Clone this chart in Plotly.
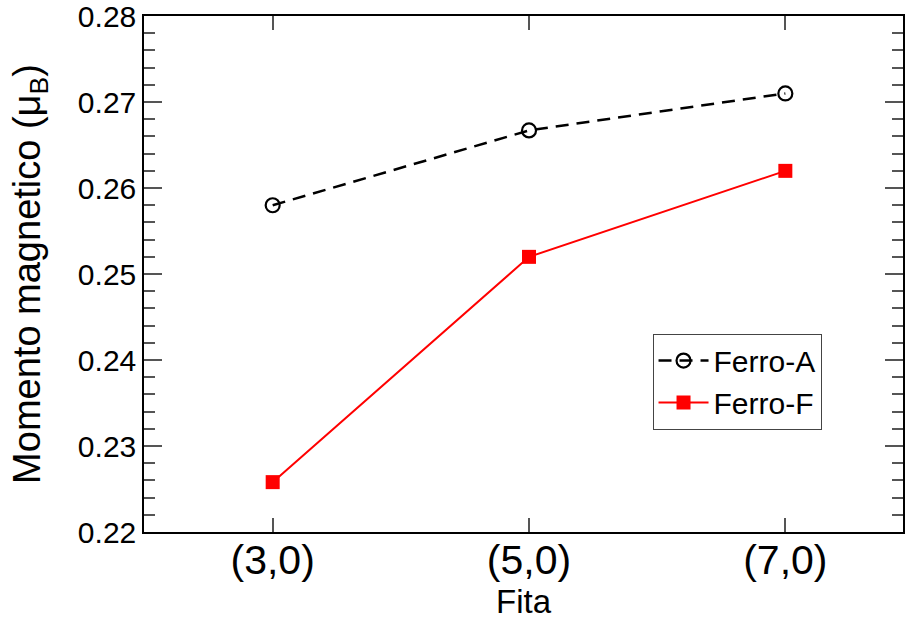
import plotly.graph_objects as go

categories = ["(3,0)", "(5,0)", "(7,0)"]
ferro_a = [0.2580, 0.2667, 0.2710]
ferro_f = [0.2258, 0.2520, 0.2620]
y_ticks = [0.22, 0.23, 0.24, 0.25, 0.26, 0.27, 0.28]

xpos = list(range(len(categories)))

fig = go.Figure()
fig.add_trace(go.Scatter(
    x=xpos, y=ferro_a, name="Ferro-A", mode="lines+markers",
    line=dict(color="black", width=2.5, dash="13px,8px"),
    marker=dict(symbol="circle-open", size=14, color="black", line=dict(width=2.2, color="black")),
))
fig.add_trace(go.Scatter(
    x=xpos, y=ferro_f, name="Ferro-F", mode="lines+markers",
    line=dict(color="#ff0000", width=2),
    marker=dict(symbol="square", size=14, color="#ff0000"),
))

font = "Liberation Sans, Arial, sans-serif"
fig.update_layout(
    width=905, height=625,
    margin=dict(l=144, r=0, t=14, b=93),
    paper_bgcolor="white", plot_bgcolor="white",
    font=dict(family=font, color="black"),
    showlegend=True,
    legend=dict(
        x=0.670, y=0.2915, xanchor="left", yanchor="middle",
        bordercolor="#444", borderwidth=1, bgcolor="white",
        font=dict(size=30, family=font),
        tracegroupgap=0, itemwidth=50,
    ),
)
fig.update_xaxes(
    range=[-0.502, 2.459],
    tickmode="array", tickvals=xpos, ticktext=categories,
    tickfont=dict(size=41, family=font),
    ticks="inside", ticklen=14, tickwidth=1.5, tickcolor="#555",
    showline=True, linecolor="black", linewidth=1.5, mirror="allticks",
    showgrid=False, zeroline=False,
    ticklabelstandoff=-9,
    title=dict(text="Fita", font=dict(size=33, family=font), standoff=6),
)
fig.update_yaxes(
    range=[0.22, 0.28001],
    tickmode="array", tickvals=y_ticks, ticktext=[f"{v:.2f}" for v in y_ticks],
    tickfont=dict(size=30, family=font),
    ticks="inside", ticklen=18, tickwidth=1.5, tickcolor="#555",
    minor=dict(ticks="inside", ticklen=11, dtick=0.002, tick0=0.22, tickcolor="#555", tickwidth=1.5, showgrid=False),
    showline=True, linecolor="black", linewidth=1.5, mirror="allticks",
    showgrid=False, zeroline=False,
    ticklabelstandoff=0, ticklabeloverflow="allow",
    title=dict(text="Momento magnetico (μ<sub>B</sub>)", font=dict(size=38, family=font), standoff=26),
)

fig.write_html("out.html", config={"displayModeBar": False},
               post_script="document.body.style.margin='0';document.body.style.padding='0';")
